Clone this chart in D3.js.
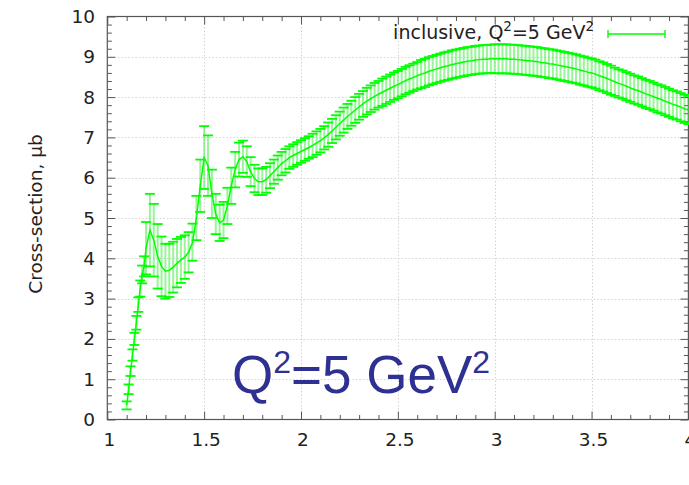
<!DOCTYPE html>
<html>
<head>
<meta charset="utf-8">
<script src="https://cdn.jsdelivr.net/npm/d3@7/dist/d3.min.js"></script>
<style>
  html, body { margin: 0; padding: 0; background: #fff; }
  svg { display: block; }
</style>
</head>
<body>
<svg id="chart" width="689" height="485"></svg>
<script>
// Invariant mass W (GeV)
const W = [
  1.10, 1.11, 1.12, 1.13, 1.14, 1.15, 1.16, 1.17, 1.18, 1.19,
  1.20, 1.22, 1.24, 1.26, 1.28, 1.30, 1.32, 1.34, 1.36, 1.38,
  1.40, 1.42, 1.44, 1.46, 1.48, 1.50, 1.52, 1.54, 1.56, 1.58,
  1.60, 1.62, 1.64, 1.66, 1.68, 1.70, 1.72, 1.74, 1.76, 1.78,
  1.80, 1.82, 1.84, 1.86, 1.88, 1.90, 1.92, 1.94, 1.96, 1.98,
  2.00, 2.02, 2.04, 2.06, 2.08, 2.10, 2.12, 2.14, 2.16, 2.18,
  2.20, 2.22, 2.24, 2.26, 2.28, 2.30, 2.32, 2.34, 2.36, 2.38,
  2.40, 2.42, 2.44, 2.46, 2.48, 2.50, 2.52, 2.54, 2.56, 2.58,
  2.60, 2.62, 2.64, 2.66, 2.68, 2.70, 2.72, 2.74, 2.76, 2.78,
  2.80, 2.82, 2.84, 2.86, 2.88, 2.90, 2.92, 2.94, 2.96, 2.98,
  3.00, 3.02, 3.04, 3.06, 3.08, 3.10, 3.12, 3.14, 3.16, 3.18,
  3.20, 3.22, 3.24, 3.26, 3.28, 3.30, 3.32, 3.34, 3.36, 3.38,
  3.40, 3.42, 3.44, 3.46, 3.48, 3.50, 3.52, 3.54, 3.56, 3.58,
  3.60, 3.62, 3.64, 3.66, 3.68, 3.70, 3.72, 3.74, 3.76, 3.78,
  3.80, 3.82, 3.84, 3.86, 3.88, 3.90, 3.92, 3.94, 3.96, 3.98,
  4.00
];

// Inclusive cross-section (μb)
const sigma = [
  0.35, 0.75, 1.20, 1.60, 2.00, 2.40, 2.85, 3.25, 3.60, 3.80,
  4.25, 4.70, 4.45, 4.05, 3.80, 3.68, 3.70, 3.78, 3.88, 3.96,
  4.03, 4.15, 4.40, 5.00, 5.80, 6.50, 6.30, 5.60, 5.10, 4.88,
  4.95, 5.30, 5.80, 6.20, 6.45, 6.52, 6.40, 6.15, 5.98, 5.90,
  5.90, 5.95, 6.05, 6.15, 6.25, 6.35, 6.42, 6.50, 6.55, 6.60,
  6.65, 6.70, 6.75, 6.80, 6.86, 6.92, 6.99, 7.07, 7.16, 7.25,
  7.34, 7.43, 7.52, 7.60, 7.68, 7.76, 7.83, 7.90, 7.96, 8.02,
  8.07, 8.12, 8.17, 8.22, 8.27, 8.31, 8.36, 8.41, 8.45, 8.49,
  8.53, 8.57, 8.60, 8.64, 8.67, 8.70, 8.73, 8.76, 8.78, 8.81,
  8.83, 8.85, 8.87, 8.89, 8.90, 8.92, 8.93, 8.94, 8.94, 8.95,
  8.95, 8.95, 8.95, 8.95, 8.94, 8.94, 8.93, 8.92, 8.91, 8.90,
  8.89, 8.88, 8.86, 8.85, 8.83, 8.82, 8.80, 8.78, 8.76, 8.74,
  8.72, 8.70, 8.67, 8.65, 8.62, 8.60, 8.57, 8.53, 8.50, 8.46,
  8.42, 8.38, 8.34, 8.31, 8.27, 8.23, 8.19, 8.16, 8.12, 8.08,
  8.05, 8.01, 7.97, 7.94, 7.90, 7.86, 7.82, 7.79, 7.75, 7.71,
  7.68
];

// Uncertainty on the cross-section (μb)
const sigmaErr = [
  0.10, 0.12, 0.12, 0.14, 0.15, 0.17, 0.18, 0.20, 0.22, 0.25,
  0.65, 0.90, 0.90, 0.80, 0.74, 0.68, 0.66, 0.63, 0.60, 0.57,
  0.54, 0.50, 0.46, 0.55, 0.65, 0.78, 0.75, 0.60, 0.50, 0.45,
  0.45, 0.45, 0.45, 0.44, 0.42, 0.40, 0.38, 0.36, 0.34, 0.33,
  0.33, 0.32, 0.31, 0.30, 0.30, 0.29, 0.29, 0.28, 0.28, 0.28,
  0.28, 0.28, 0.28, 0.29, 0.29, 0.29, 0.29, 0.30, 0.30, 0.30,
  0.30, 0.31, 0.31, 0.31, 0.32, 0.32, 0.32, 0.33, 0.33, 0.33,
  0.33, 0.34, 0.34, 0.34, 0.34, 0.34, 0.34, 0.34, 0.34, 0.34,
  0.34, 0.35, 0.35, 0.35, 0.35, 0.35, 0.35, 0.35, 0.35, 0.35,
  0.35, 0.35, 0.35, 0.35, 0.35, 0.35, 0.35, 0.35, 0.35, 0.35,
  0.36, 0.36, 0.36, 0.36, 0.36, 0.36, 0.36, 0.36, 0.36, 0.36,
  0.36, 0.36, 0.36, 0.36, 0.36, 0.36, 0.36, 0.36, 0.36, 0.36,
  0.36, 0.36, 0.36, 0.36, 0.36, 0.36, 0.36, 0.36, 0.36, 0.36,
  0.36, 0.35, 0.35, 0.35, 0.35, 0.35, 0.35, 0.35, 0.35, 0.35,
  0.35, 0.35, 0.35, 0.35, 0.35, 0.35, 0.35, 0.35, 0.35, 0.35,
  0.35
];

const xTickValues = [1, 1.5, 2, 2.5, 3, 3.5, 4];
const xTickLabels = ["1", "1.5", "2", "2.5", "3", "3.5", "4"];
const yTickValues = [0, 1, 2, 3, 4, 5, 6, 7, 8, 9, 10];
const yTickLabels = ["0", "1", "2", "3", "4", "5", "6", "7", "8", "9", "10"];

const points = W.map((w, i) => ({ w, s: sigma[i], e: sigmaErr[i] }));

const svg = d3.select("#chart");
const plot = { left: 107.3, right: 688.4, top: 16.5, bottom: 419.5 };

const x = d3.scaleLinear().domain([1, 4]).range([plot.left, plot.right]);
const y = d3.scaleLinear().domain([0, 10]).range([plot.bottom, plot.top]);

const green = "#00ff00";
const axisColor = "#555";
const textColor = "#222";
const sans = "'DejaVu Sans', sans-serif";

// Grid (dotted) at major ticks
const grid = svg.append("g").attr("stroke", "#d4d4d4").attr("stroke-width", 1)
  .attr("stroke-dasharray", "1.5,2");
grid.selectAll("line.gx").data(xTickValues.slice(1, -1)).join("line")
  .attr("x1", d => Math.round(x(d)) + 0.5).attr("x2", d => Math.round(x(d)) + 0.5)
  .attr("y1", plot.top).attr("y2", plot.bottom);
grid.selectAll("line.gy").data(yTickValues.slice(1, -1)).join("line")
  .attr("y1", d => Math.round(y(d)) + 0.5).attr("y2", d => Math.round(y(d)) + 0.5)
  .attr("x1", plot.left).attr("x2", plot.right);

// Axes with inward ticks on all four sides
const major = 8, minor = 4.5;
const xMinor = x.ticks(30).filter(v => !xTickValues.some(t => Math.abs(t - v) < 1e-9));
const yMinor = y.ticks(50).filter(v => !yTickValues.some(t => Math.abs(t - v) < 1e-9));

function xAxisAt(yPos, inward) {
  const g = svg.append("g").attr("transform", `translate(0,${yPos})`);
  g.call(d3.axisBottom(x).tickValues(xMinor).tickSize(inward * minor).tickFormat(""));
  g.append("g").call(d3.axisBottom(x).tickValues(xTickValues).tickSize(inward * major).tickFormat(""));
  g.selectAll(".domain").remove();
  g.selectAll("line").attr("stroke", axisColor);
  return g;
}
function yAxisAt(xPos, inward) {
  const g = svg.append("g").attr("transform", `translate(${xPos},0)`);
  g.call(d3.axisRight(y).tickValues(yMinor).tickSize(inward * minor).tickFormat(""));
  g.append("g").call(d3.axisRight(y).tickValues(yTickValues).tickSize(inward * major).tickFormat(""));
  g.selectAll(".domain").remove();
  g.selectAll("line").attr("stroke", axisColor);
  return g;
}
xAxisAt(plot.bottom, -1);
xAxisAt(plot.top, 1);
yAxisAt(plot.left, 1);
yAxisAt(plot.right, -1);

// Plot border
svg.append("rect")
  .attr("x", plot.left).attr("y", plot.top)
  .attr("width", plot.right - plot.left).attr("height", plot.bottom - plot.top)
  .attr("fill", "none").attr("stroke", axisColor).attr("stroke-width", 1.2);

// Tick labels
svg.append("g").selectAll("text").data(xTickValues).join("text")
  .attr("x", d => x(d) + 2).attr("y", 446)
  .attr("text-anchor", "middle").style("font-family", sans).style("font-size", "18.5px")
  .attr("fill", textColor)
  .text((d, i) => xTickLabels[i]);
svg.append("g").selectAll("text").data(yTickValues).join("text")
  .attr("x", 95).attr("y", d => y(d) + 6.5)
  .attr("text-anchor", "end").style("font-family", sans).style("font-size", "18.5px")
  .attr("fill", textColor)
  .text((d, i) => yTickLabels[i]);

// Axis title
svg.append("text")
  .attr("transform", `translate(42,214) rotate(-90)`)
  .attr("text-anchor", "middle").style("font-family", sans).style("font-size", "18.5px")
  .attr("fill", textColor)
  .text("Cross-section, μb");

// Error bars
const bars = svg.append("g");
const capHalf = 5;
bars.selectAll("line.v").data(points).join("line")
  .attr("x1", d => x(d.w)).attr("x2", d => x(d.w))
  .attr("y1", d => y(d.s - d.e)).attr("y2", d => y(d.s + d.e))
  .attr("stroke", "#44ee44").attr("stroke-width", 2).attr("stroke-opacity", 0.55);
bars.selectAll("line.top").data(points).join("line")
  .attr("x1", d => x(d.w) - capHalf).attr("x2", d => x(d.w) + capHalf)
  .attr("y1", d => y(d.s + d.e)).attr("y2", d => y(d.s + d.e))
  .attr("stroke", green).attr("stroke-width", 1.8);
bars.selectAll("line.bot").data(points).join("line")
  .attr("x1", d => x(d.w) - capHalf).attr("x2", d => x(d.w) + capHalf)
  .attr("y1", d => y(d.s - d.e)).attr("y2", d => y(d.s - d.e))
  .attr("stroke", green).attr("stroke-width", 1.8);

// Line through the central values
svg.append("path").datum(points)
  .attr("d", d3.line().x(d => x(d.w)).y(d => y(d.s)))
  .attr("fill", "none").attr("stroke", green).attr("stroke-width", 1.5);

// Key
const key = svg.append("text").attr("x", 594).attr("y", 39)
  .attr("text-anchor", "end").style("font-family", sans).style("font-size", "19px")
  .attr("fill", textColor);
key.append("tspan").text("inclusive, Q");
key.append("tspan").style("font-size", "13.5px").attr("dy", -8).text("2");
key.append("tspan").attr("dy", 8).text("=5 GeV");
key.append("tspan").style("font-size", "13.5px").attr("dy", -8).text("2");

const keyY = 34;
svg.append("line").attr("x1", 608).attr("x2", 665).attr("y1", keyY).attr("y2", keyY)
  .attr("stroke", green).attr("stroke-width", 1.4);
[608, 665].forEach(kx => {
  svg.append("line").attr("x1", kx).attr("x2", kx).attr("y1", keyY - 4).attr("y2", keyY + 4)
    .attr("stroke", green).attr("stroke-width", 1.4);
});

// Large annotation
const big = svg.append("text").attr("x", 232).attr("y", 393)
  .style("font-family", "'Liberation Sans', Arial, sans-serif")
  .style("font-size", "53px").attr("fill", "#2e3192");
big.append("tspan").text("Q");
big.append("tspan").style("font-size", "32px").attr("dy", -20).text("2");
big.append("tspan").attr("dy", 20).text("=5 GeV");
big.append("tspan").style("font-size", "32px").attr("dy", -20).text("2");
</script>
</body>
</html>
